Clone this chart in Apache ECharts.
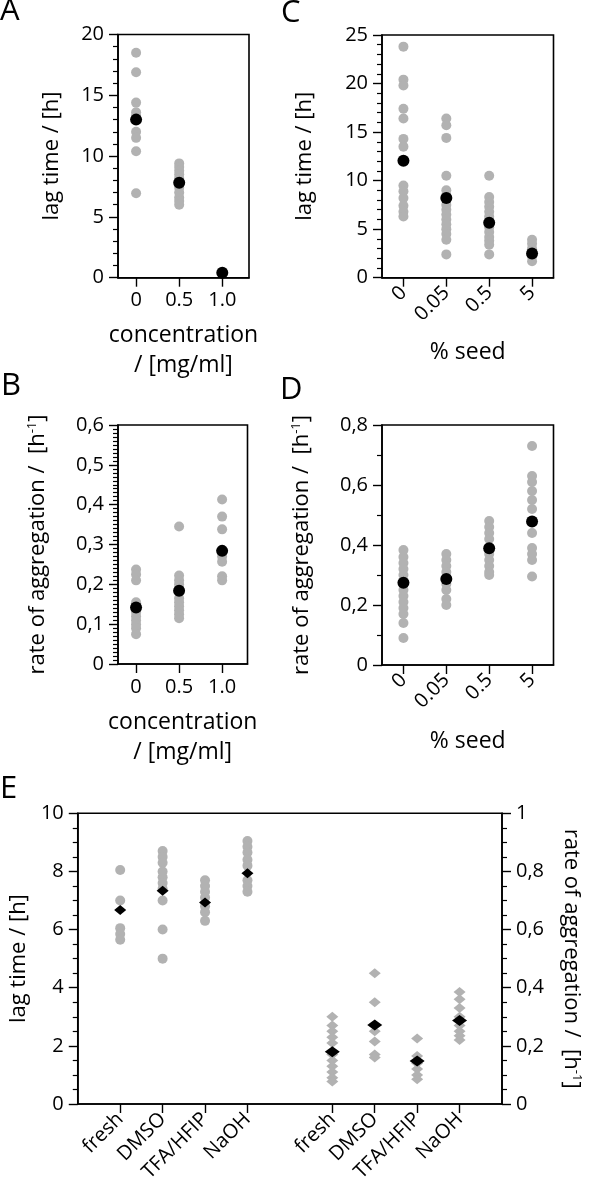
<!DOCTYPE html>
<html><head><meta charset="utf-8">
<script src="https://cdn.jsdelivr.net/npm/echarts@6/dist/echarts.min.js"></script>
<style>html,body{margin:0;padding:0;background:#fff}#c{width:591px;height:1199px}</style>
</head><body><div id="c"></div>
<script>
// ---------- Panel A: lag time vs concentration ----------
const concLabels = ['0', '0.5', '1.0'];
const lagByConcGray = [
  [18.5, 16.9, 14.4, 13.6, 13.3, 12.0, 11.5, 10.4, 6.95],
  [9.4, 9.1, 8.8, 8.5, 8.2, 7.4, 7.0, 6.6, 6.3, 6.0],
  []
];
const lagByConcMean = [13.0, 7.8, 0.4];
// ---------- Panel B: rate vs concentration ----------
const rateByConcGray = [
  [0.237, 0.225, 0.21, 0.155, 0.145, 0.13, 0.12, 0.11, 0.10, 0.09, 0.075],
  [0.345, 0.222, 0.21, 0.20, 0.165, 0.155, 0.145, 0.135, 0.125, 0.115],
  [0.413, 0.37, 0.338, 0.27, 0.257, 0.22, 0.21]
];
const rateByConcMean = [0.142, 0.184, 0.284];
// ---------- Panel C: lag time vs % seed ----------
const seedLabels = ['0', '0.05', '0.5', '5'];
const lagBySeedGray = [
  [23.8, 20.4, 19.8, 17.4, 16.4, 14.3, 13.5, 9.5, 8.9, 8.2, 7.4, 6.8, 6.3],
  [16.4, 15.7, 14.4, 10.5, 9.0, 8.5, 7.5, 7.0, 6.5, 6.0, 5.5, 5.0, 4.5, 3.9, 2.4],
  [10.5, 8.3, 7.8, 7.3, 6.8, 6.3, 5.2, 4.7, 4.2, 3.8, 3.4, 2.4],
  [3.9, 3.5, 3.0, 2.2, 1.7]
];
const lagBySeedMean = [12.05, 8.2, 5.66, 2.5];
// ---------- Panel D: rate vs % seed ----------
const rateBySeedGray = [
  [0.383, 0.36, 0.34, 0.32, 0.30, 0.25, 0.23, 0.21, 0.19, 0.17, 0.14, 0.09],
  [0.37, 0.35, 0.33, 0.31, 0.27, 0.25, 0.22, 0.20],
  [0.48, 0.46, 0.44, 0.42, 0.37, 0.35, 0.33, 0.31, 0.30],
  [0.73, 0.63, 0.61, 0.58, 0.55, 0.52, 0.44, 0.39, 0.37, 0.35, 0.295]
];
const rateBySeedMean = [0.274, 0.287, 0.389, 0.478];
// ---------- Panel E: preparation ----------
const prepLabels = ['fresh', 'DMSO', 'TFA/HFIP', 'NaOH'];
const lagByPrepGray = [
  [8.05, 7.0, 6.05, 5.85, 5.65],
  [8.7, 8.5, 8.3, 8.0, 7.8, 7.6, 7.4, 7.0, 6.0, 5.0],
  [7.7, 7.5, 7.3, 7.1, 6.8, 6.6, 6.3],
  [9.05, 8.85, 8.65, 8.4, 8.2, 7.7, 7.5, 7.3]
];
const lagByPrepMean = [6.67, 7.34, 6.93, 7.94];
const rateByPrepGray = [
  [0.30, 0.27, 0.25, 0.23, 0.21, 0.17, 0.15, 0.13, 0.11, 0.09, 0.077],
  [0.45, 0.35, 0.25, 0.215, 0.17, 0.16],
  [0.225, 0.165, 0.14, 0.12, 0.10, 0.085],
  [0.385, 0.36, 0.33, 0.30, 0.27, 0.25, 0.235, 0.22]
];
const rateByPrepMean = [0.18, 0.272, 0.148, 0.287];

const F = "'Open Sans', sans-serif";
const GRAY = '#b2b2b2';
const TICK_FS = 20, NAME_FS = 22;
const comma = v => v === 0 ? '0' : String(+v.toFixed(2)).replace('.', ',');
const supRich = { sup: { fontSize: 13, fontFamily: F, color: '#000', verticalAlign: 'top', padding: [0, 0, 10, 0] } };

function grid(left, top, width, height) {
  return { left, top, width, height, show: true, borderColor: '#000', borderWidth: 1.6, backgroundColor: 'transparent' };
}
function yAx(gi, min, max, interval, minorSplit, fmt, name, nameGap, extra) {
  return Object.assign({
    type: 'value', gridIndex: gi, min, max, interval,
    axisLine: { show: true, onZero: false, lineStyle: { color: '#000', width: 1.6 } },
    axisTick: { show: true, inside: false, length: 9, lineStyle: { color: '#000', width: 1.4 } },
    minorTick: { show: true, splitNumber: minorSplit, length: 5, lineStyle: { color: '#000', width: 1.2 } },
    splitLine: { show: false }, minorSplitLine: { show: false },
    axisLabel: { color: '#000', fontSize: TICK_FS, fontFamily: F, margin: 14, formatter: fmt },
    name, nameLocation: 'middle', nameGap,
    nameTextStyle: { color: '#000', fontSize: NAME_FS, fontFamily: F, rich: supRich }
  }, extra || {});
}
function xAx(gi, min, max, positions, labelOf, name, nameGap, rotate) {
  return {
    type: 'value', gridIndex: gi, min, max,
    axisLine: { show: true, onZero: false, lineStyle: { color: '#000', width: 1.6 } },
    axisTick: { show: true, inside: false, length: 9, customValues: positions, lineStyle: { color: '#000', width: 1.4 } },
    splitLine: { show: false },
    axisLabel: { color: '#000', fontSize: TICK_FS, fontFamily: F, margin: rotate ? 12 : 13, rotate: rotate || 0,
      customValues: positions, formatter: labelOf },
    name, nameLocation: 'middle', nameGap,
    nameTextStyle: { color: '#000', fontSize: NAME_FS + 1, fontFamily: F, lineHeight: 30 }
  };
}
function pts(groups, offset) {
  const out = [];
  groups.forEach((g, i) => g.forEach(v => out.push([i + offset, v])));
  return out;
}
function means(arr, offset) { return arr.map((v, i) => [i + offset, v]); }
function sc(xi, yi, data, color, symbol, size, z) {
  return { type: 'scatter', xAxisIndex: xi, yAxisIndex: yi, data, symbol, symbolSize: size,
    itemStyle: { color, opacity: 1 }, z, silent: true, animation: false };
}

const idx = a => Math.round(a);
const option = {
  animation: false,
  backgroundColor: '#fff',
  grid: [
    grid(118, 34.5, 131, 243.2),   // A
    grid(382, 35, 171.5, 242.7),   // C
    grid(118, 425, 129.5, 239),    // B
    grid(382, 425, 171.5, 240),    // D
    grid(76, 813.3, 427.3, 290.7)  // E
  ],
  xAxis: [
    xAx(0, -0.42, 2.62, [0, 1, 2], v => concLabels[idx(v)], 'concentration\n/ [mg/ml]', 43),
    xAx(1, -0.5, 3.5, [0, 1, 2, 3], v => seedLabels[idx(v)], '% seed', 60, 45),
    xAx(2, -0.42, 2.59, [0, 1, 2], v => concLabels[idx(v)], 'concentration\n/ [mg/ml]', 43),
    xAx(3, -0.5, 3.5, [0, 1, 2, 3], v => seedLabels[idx(v)], '% seed', 61, 45),
    xAx(4, 0, 10, [1, 2, 3, 4, 6, 7, 8, 9], v => v < 5 ? prepLabels[idx(v) - 1] : prepLabels[idx(v) - 6], '', 0, 45)
  ],
  yAxis: [
    yAx(0, 0, 20, 5, 5, v => String(v), 'lag time / [h]', 55),
    yAx(1, 0, 25, 5, 5, v => String(v), 'lag time / [h]', 66),
    yAx(2, 0, 0.6, 0.1, 10, comma, 'rate of aggregation /  [h{sup|-1}]', 69),
    yAx(3, 0, 0.8, 0.2, 2, comma, 'rate of aggregation /  [h{sup|-1}]', 69),
    yAx(4, 0, 10, 2, 4, v => String(v), 'lag time / [h]', 44),
    yAx(4, 0, 1, 0.2, 4, comma, 'rate of aggregation /  [h{sup|-1}]', 58, { position: 'right', nameRotate: -90 })
  ],
  series: [
    sc(0, 0, pts(lagByConcGray, 0), GRAY, 'circle', 10, 2),
    sc(0, 0, means(lagByConcMean, 0), '#000', 'circle', 12, 3),
    sc(1, 1, pts(lagBySeedGray, 0), GRAY, 'circle', 10, 2),
    sc(1, 1, means(lagBySeedMean, 0), '#000', 'circle', 12, 3),
    sc(2, 2, pts(rateByConcGray, 0), GRAY, 'circle', 10, 2),
    sc(2, 2, means(rateByConcMean, 0), '#000', 'circle', 12, 3),
    sc(3, 3, pts(rateBySeedGray, 0), GRAY, 'circle', 10, 2),
    sc(3, 3, means(rateBySeedMean, 0), '#000', 'circle', 12, 3),
    sc(4, 4, pts(lagByPrepGray, 1), GRAY, 'circle', 10, 2),
    sc(4, 4, means(lagByPrepMean, 1), '#000', 'diamond', [12, 10], 3),
    sc(4, 5, pts(rateByPrepGray, 6), GRAY, 'diamond', [12, 10], 2),
    sc(4, 5, means(rateByPrepMean, 6), '#000', 'diamond', [15, 11], 3)
  ],
  graphic: [
    ['A', 0, -4], ['C', 281, -2], ['B', 1, 371], ['D', 280, 375], ['E', 0, 774]
  ].map(([t, x, y]) => ({ type: 'text', left: x, top: y, style: { text: t, fontSize: 31, fontFamily: F, fill: '#000' } }))
};
const chart = echarts.init(document.getElementById('c'), null, { renderer: 'canvas' });
chart.setOption(option);
</script></body></html>
